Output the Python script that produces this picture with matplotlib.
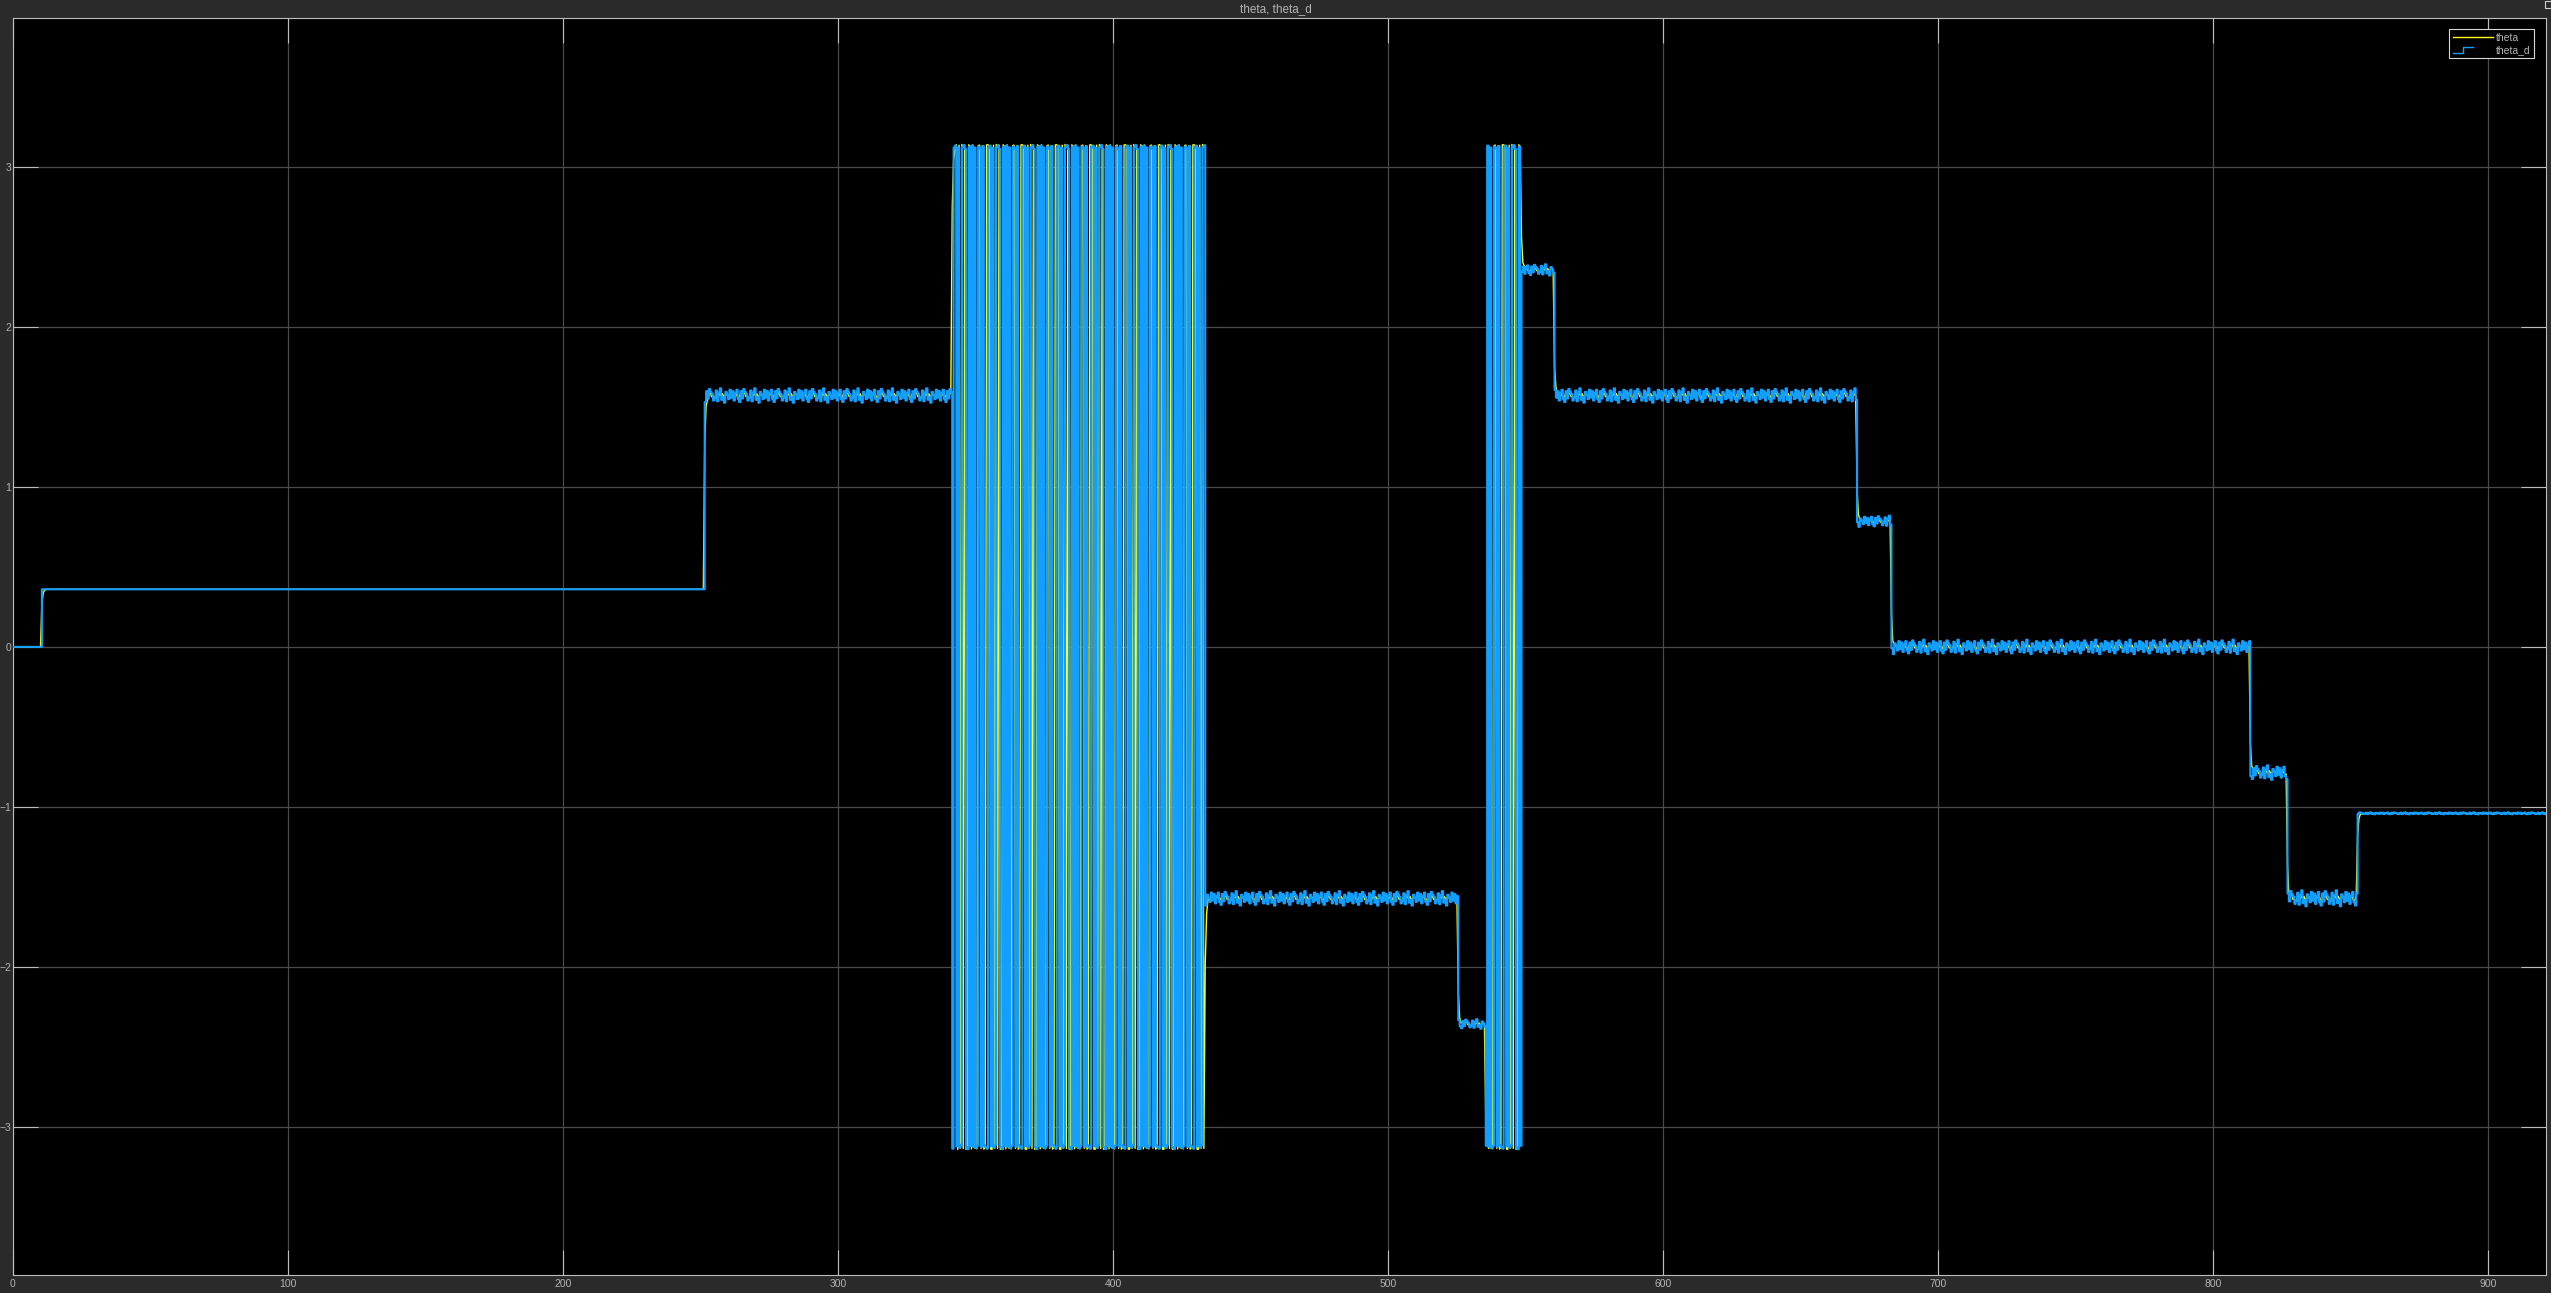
import numpy as np
import matplotlib
matplotlib.use("Agg")
import matplotlib.pyplot as plt
from matplotlib.lines import Line2D
from matplotlib.legend_handler import HandlerBase
from matplotlib.patches import Rectangle

# ---------------- data ----------------
# piecewise segments of the desired angle (unwrapped, rad); wrapped to [-pi, pi] for display
seg_start = [0.0, 10.2, 251.2, 341.3, 433.3, 525.5, 535.5, 548.3, 560.3, 670.2, 683.0, 813.3, 826.7, 852.2]
seg_level = [0.0, 0.36, 1.571, 3.1416, 4.712, 3.927, 3.1416, 2.356, 1.571, 0.785, 0.0, -0.785, -1.571, -1.04]
seg_ripple = [0.0, 0.0, 0.045, 0.03, 0.045, 0.03, 0.03, 0.035, 0.045, 0.035, 0.045, 0.045, 0.05, 0.006]
# normalised ripple shape (estimated from the jitter seen on each plateau)
ripple_pattern = [0.3, 0.8, -0.5, -0.9, 0.6, -0.4, 0.9, 0.5, 0.2, -0.7, -0.3, 0.7, -0.8,
                  0.4, 1.0, -0.6, -0.2, -1.0, 0.5, 0.1, -0.5, 0.8, -0.3, 0.6, -0.7]
t_end = 921.0
dt = 0.5
x_ticks = [0, 100, 200, 300, 400, 500, 600, 700, 800, 900]
y_ticks = [-3, -2, -1, 0, 1, 2, 3]
title_text = "theta, theta_d"
series_names = ["theta", "theta_d"]

# ---------------- build signals ----------------
t = np.arange(0.0, t_end + dt, dt)
n = len(t)
idx = np.searchsorted(seg_start, t, side="right") - 1
level = np.asarray(seg_level)[idx]
amp = np.asarray(seg_ripple)[idx]
pat = np.asarray(ripple_pattern)
rip_d = pat[np.arange(n) % len(pat)]
rip_a = pat[(np.arange(n) + 7) % len(pat)]

theta_d_unw = level + amp * rip_d
target = level + 0.6 * amp * rip_a
theta_unw = np.empty(n)
theta_unw[0] = target[0]
for i in range(1, n):
    theta_unw[i] = theta_unw[i - 1] + 0.75 * (target[i] - theta_unw[i - 1])


def wrap(a):
    return (a + np.pi) % (2 * np.pi) - np.pi


theta_d = wrap(theta_d_unw)
theta = wrap(theta_unw)

# ---------------- style ----------------
W, H = 2551, 1293
DPI = 100
fig_bg = "#2a2a2a"
ax_bg = "#000000"
txt_col = "#b4b4b4"
grid_col = "#4a4a4a"
spine_col = "#bdbdbd"
yellow = "#FFFF11"
blue = "#139FFF"
font = "Liberation Sans"

fig = plt.figure(figsize=(W / DPI, H / DPI), dpi=DPI, facecolor=fig_bg)
ax = fig.add_axes([13 / W, 18 / H, (2546 - 13) / W, (1275 - 18) / H])
ax.set_facecolor(ax_bg)

ax.plot(t, theta, color=yellow, lw=1.0, zorder=3, label=series_names[0])
ax.plot(t, theta_d, color=blue, lw=1.5, drawstyle="steps-post", zorder=4, label=series_names[1])

ax.set_xlim(0, t_end)
ax.set_ylim(-3.925, 3.93)
ax.set_xticks(x_ticks)
ax.set_yticks(y_ticks)
ax.grid(True, color=grid_col, lw=0.9, zorder=1)
ax.set_axisbelow(True)
ax.tick_params(direction="in", length=18, width=0.8, color=spine_col,
               top=True, right=True, labelsize=7.5, labelcolor=txt_col)
ax.tick_params(axis="x", pad=3)
ax.tick_params(axis="y", pad=1.5)
for lab in ax.get_xticklabels() + ax.get_yticklabels():
    lab.set_fontfamily(font)
for s in ax.spines.values():
    s.set_color(spine_col)
    s.set_linewidth(0.8)

fig.text(0.5, 1 - 9 / H, title_text, ha="center", va="center",
         color=txt_col, fontsize=8.5, family=font)

# small icon in the top-right corner
fig.patches.append(Rectangle((2545 / W, 1 - 8 / H), 6 / W, 7 / H, transform=fig.transFigure,
                             facecolor="none", edgecolor="#cfcfcf", lw=0.8))


class StepHandler(HandlerBase):
    def create_artists(self, legend, orig_handle, xdescent, ydescent, width, height, fontsize, trans):
        x0, y0 = -xdescent, -ydescent
        xs = [x0, x0 + 0.25 * width, x0 + 0.25 * width, x0 + 0.5 * width]
        ys = [y0 - 0.05 * height, y0 - 0.05 * height, y0 + 0.85 * height, y0 + 0.85 * height]
        ln = Line2D(xs, ys, color=orig_handle.get_color(), lw=orig_handle.get_linewidth())
        ln.set_transform(trans)
        return [ln]


h_theta = Line2D([], [], color=yellow, lw=1.0)
h_theta_d = Line2D([], [], color=blue, lw=1.0)
leg = ax.legend([h_theta, h_theta_d], series_names,
                handler_map={h_theta_d: StepHandler()},
                loc="upper right", bbox_to_anchor=(2534 / W, 1 - 29 / H),
                bbox_transform=fig.transFigure, frameon=True, fancybox=False,
                facecolor="black", edgecolor="#d8d8d8", framealpha=1,
                prop={"family": font, "size": 7.5}, handlelength=3.8,
                handletextpad=0.3, borderpad=0.35, labelspacing=0.2,
                borderaxespad=0)
leg.get_frame().set_linewidth(0.8)
for tx in leg.get_texts():
    tx.set_color(txt_col)

fig.savefig("out.png", dpi=DPI, facecolor=fig_bg)
